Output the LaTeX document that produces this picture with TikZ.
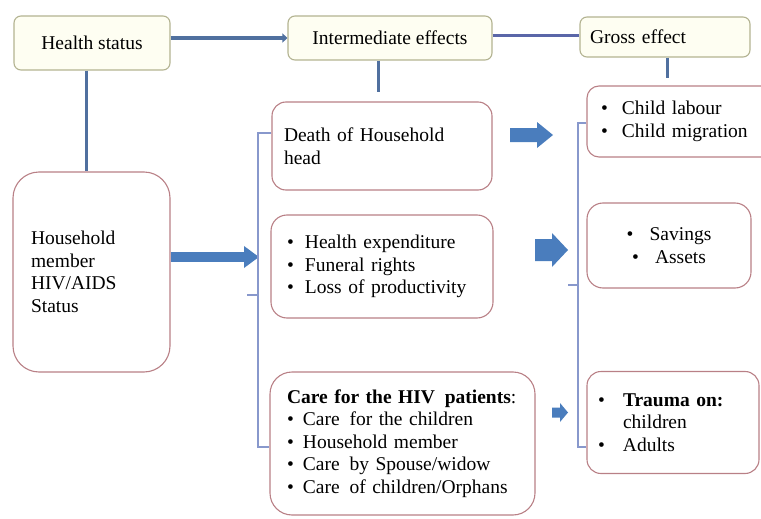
\documentclass[tikz,border=0pt]{standalone}
\usepackage{fontspec}
\setmainfont{Liberation Serif}
\usetikzlibrary{arrows.meta}
\definecolor{topfill}{HTML}{FEFEF2}
\definecolor{topdraw}{HTML}{B3B391}
\definecolor{reddraw}{HTML}{B98086}
\definecolor{cline}{HTML}{50709F}
\definecolor{cpurp}{HTML}{5A66A8}
\definecolor{cbrack}{HTML}{8898CC}
\definecolor{barrowc}{HTML}{4A7DBD}
\newcommand\bul[2][18pt]{\makebox[#1][l]{\textbullet}#2}
\tikzset{
  txt/.style={font=\fontsize{19.5}{22.5}\selectfont},
  topbox/.style={txt, draw=topdraw, fill=topfill, line width=1.1pt, rounded corners=7pt, inner sep=0pt},
  redbox/.style={txt, draw=reddraw, fill=white, line width=1.1pt, inner ysep=0pt, align=left},
  cthick/.style={draw=cline, line width=4.5pt},
  cmid/.style={draw=cline, line width=3pt},
  cpl/.style={draw=cpurp, line width=3pt},
  brack/.style={draw=cbrack, line width=1.1pt},
  barrow/.style={fill=barrowc},
}
\begin{document}
\begin{tikzpicture}[x=1pt,y=-1pt]
\useasboundingbox (0,0) rectangle (761,519);
% top row
\node[topbox, minimum width=156pt, minimum height=54pt] (hs) at (92,43) {Health status};
\node[topbox, minimum width=204pt, minimum height=44pt] (ie) at (390,38) {Intermediate effects};
\node[topbox, minimum height=40pt, inner xsep=10pt, text width=150pt, align=left] (ge) at (665,37) {Gross effect};
% boxes
\node[redbox, rounded corners=14pt, minimum height=88pt, inner xsep=12pt, text width=196pt] (dh) at (382,146)
  {Death of Household\\head};
\node[redbox, rounded corners=12pt, minimum height=71pt, inner xsep=14pt, text width=160pt] (ca) at (681,121.5)
  {\bul[21pt]{Child labour}\\\bul[21pt]{Child migration}};
\node[redbox, rounded corners=26pt, minimum height=200pt, inner xsep=18pt, text width=121pt] (hm) at (91.5,272)
  {Household\\member\\HIV/AIDS\\Status};
\node[redbox, rounded corners=16pt, minimum height=103pt, inner xsep=16pt, text width=190pt] (he) at (382,266.5)
  {\bul{Health expenditure}\\\bul{Funeral rights}\\\bul{Loss of productivity}};
\node[redbox, rounded corners=16pt, minimum height=85pt, minimum width=164pt, align=center] (sa) at (669,245.5)
  {\bul[23pt]{Savings}\\\bul[23pt]{Assets}};
\node[redbox, rounded corners=22pt, minimum height=143pt, inner xsep=17pt, text width=231pt] (cp) at (402.5,443.5)
  {\mbox{\textbf{Care for the HIV\, patients}:}\\\bul[16pt]{Care\, for the children}\\\bul[16pt]{Household member}\\\bul[16pt]{Care\, by Spouse/widow}\\\bul[16pt]{Care\, of children/Orphans}};
\node[redbox, rounded corners=14pt, minimum height=102pt, inner xsep=11pt, text width=150pt] (tr) at (673,422.5)
  {\bul[25pt]{\textbf{Trauma on:}}\\\hspace*{25pt}children\\\bul[25pt]{Adults}};
% coordinates
\coordinate (ied) at (378,92);
\coordinate (ged) at (667,78);
\coordinate (lbt) at (258,133);
\coordinate (lbb) at (258,447);
\coordinate (lbm) at (258,295);
\coordinate (lba) at (259,257);
\coordinate (rbt) at (578,123);
\coordinate (rbb) at (578,447);
\coordinate (rbm) at (578,285);
% connectors
\draw[cthick, -{Triangle[length=5pt,width=9pt]}] (hs.east |- ie.west) -- (ie.west);
\draw[cmid] ([xshift=-6pt]hs.south) -- ([xshift=-6pt]hs.south |- hm.north);
\draw[cpl] (ie.east |- 0,36) -- (ge.west |- 0,36);
\draw[cmid] (ie.south -| ied) -- (ied);
\draw[cmid] (ge.south -| ged) -- (ged);
\draw[draw=barrowc, line width=10pt, -{Triangle[length=15pt,width=21pt]}] (hm.east |- lba) -- (lba);
% brackets
\draw[brack] (dh.west |- lbt) -- (lbt) -- (lbb) -- (cp.west |- lbb);
\draw[brack] (lbm) -- ++(-11,0);
\draw[brack] (ca.west |- rbt) -- (rbt) -- (rbb) -- (tr.west |- rbb);
\draw[brack] (rbm) -- ++(-10,0);
% block arrows
\fill[barrow] (510,128) -- (537,128) -- (537,122) -- (553,135) -- (537,148) -- (537,142) -- (510,142) -- cycle;
\fill[barrow] (535,239) -- (552,239) -- (552,233) -- (568,250) -- (552,267) -- (552,261) -- (535,261) -- cycle;
\fill[barrow] (552,407.5) -- (560,407.5) -- (560,403) -- (568,412.5) -- (560,422) -- (560,417.5) -- (552,417.5) -- cycle;
\end{tikzpicture}
\end{document}
